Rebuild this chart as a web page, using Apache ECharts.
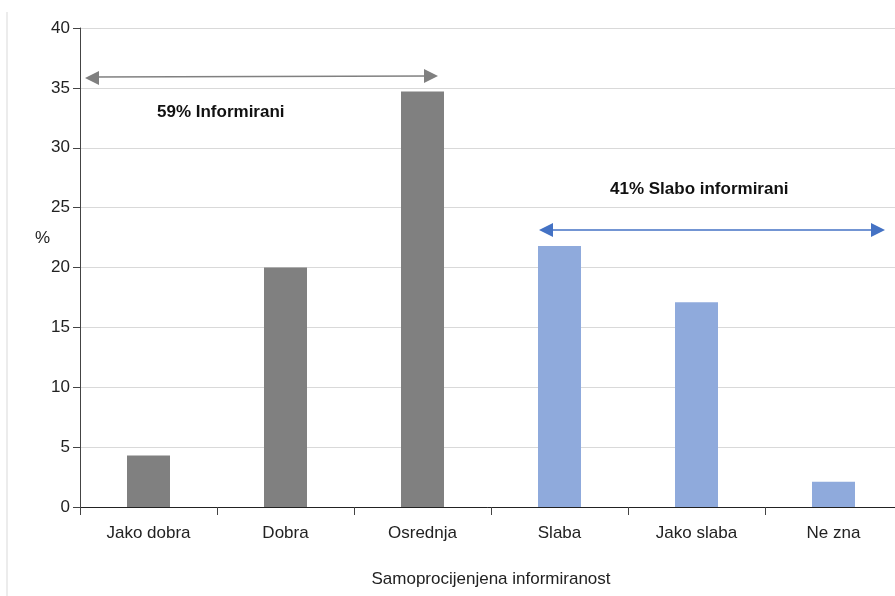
<!DOCTYPE html>
<html>
<head>
<meta charset="utf-8">
<script src="https://cdn.jsdelivr.net/npm/echarts@6/dist/echarts.min.js"></script>
<style>
  html, body { margin: 0; padding: 0; background: #fff; }
</style>
</head>
<body>
<div id="myChart" style="width: 895px; height: 596px;"></div>
<script>
// podaci
var categories = ['Jako dobra', 'Dobra', 'Osrednja', 'Slaba', 'Jako slaba', 'Ne zna']
var values = [4.3, 20, 34.7, 21.8, 17.1, 2.1]
var barColors = ['#808080', '#808080', '#808080', '#8FAADC', '#8FAADC', '#8FAADC']
var yTicks = [0, 5, 10, 15, 20, 25, 30, 35, 40]

var myChart = echarts.init(document.getElementById('myChart'))
var font = 'Liberation Sans, Arial, sans-serif'

var option = {
  animation: false,
  grid: { left: 80, top: 28, bottom: 89, width: 822, outerBoundsMode: 'none', containLabel: false },
  xAxis: {
    type: 'category',
    data: categories,
    name: 'Samoprocijenjena informiranost',
    nameLocation: 'middle',
    nameGap: 64,
    nameTextStyle: { color: '#222', fontSize: 17, fontFamily: font },
    axisLine: { lineStyle: { color: '#222', width: 1 } },
    axisTick: { show: true, alignWithLabel: false, length: 8, lineStyle: { color: '#444' } },
    axisLabel: { color: '#222', fontSize: 17, fontFamily: font, margin: 18 }
  },
  yAxis: {
    type: 'value',
    min: yTicks[0],
    max: yTicks[yTicks.length - 1],
    interval: 5,
    axisLine: { show: true, lineStyle: { color: '#444' } },
    axisTick: { show: true, length: 7, lineStyle: { color: '#444' } },
    axisLabel: { color: '#222', fontSize: 17, fontFamily: font, margin: 10 },
    splitLine: { lineStyle: { color: '#d9d9d9' } }
  },
  series: [{
    type: 'bar',
    barWidth: 43,
    data: values.map(function (v, i) {
      return { value: v, itemStyle: { color: barColors[i] } }
    })
  }],
  graphic: [
    // okvir slajda lijevo
    { type: 'line', shape: { x1: 7, y1: 12, x2: 7, y2: 596 }, style: { stroke: '#d9d9d9', lineWidth: 1 } },
    { type: 'text', left: 35, top: 230, style: { text: '%', fontSize: 17, fontFamily: font, fill: '#222' } },
    // sivi dvostruki strelica
    { type: 'line', shape: { x1: 92, y1: 77, x2: 430, y2: 76 }, style: { stroke: '#808080', lineWidth: 1.5 } },
    { type: 'polygon', shape: { points: [[85, 78], [99, 71], [99, 85]] }, style: { fill: '#808080' } },
    { type: 'polygon', shape: { points: [[438, 76], [424, 69], [424, 83]] }, style: { fill: '#808080' } },
    { type: 'text', left: 157, top: 104, style: { text: '59% Informirani', fontSize: 17, fontWeight: 'bold', fontFamily: font, fill: '#111' } },
    // plava dvostruka strelica
    { type: 'line', shape: { x1: 546, y1: 230, x2: 878, y2: 230 }, style: { stroke: '#4472C4', lineWidth: 1.5 } },
    { type: 'polygon', shape: { points: [[539, 230], [553, 223], [553, 237]] }, style: { fill: '#4472C4' } },
    { type: 'polygon', shape: { points: [[885, 230], [871, 223], [871, 237]] }, style: { fill: '#4472C4' } },
    { type: 'text', left: 610, top: 181, style: { text: '41% Slabo informirani', fontSize: 17, fontWeight: 'bold', fontFamily: font, fill: '#111' } }
  ]
}

myChart.setOption(option)
</script>
</body>
</html>
